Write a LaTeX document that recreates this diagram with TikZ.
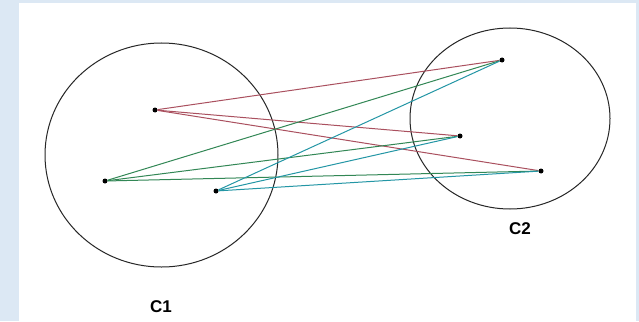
\documentclass[tikz,border=0pt]{standalone}
\usepackage{fontspec}
\setmainfont{Liberation Sans}
\definecolor{framebg}{RGB}{220,232,244}
\definecolor{linered}{RGB}{170,80,95}
\definecolor{linegreen}{RGB}{50,135,85}
\definecolor{lineblue}{RGB}{35,150,165}
\begin{document}
\begin{tikzpicture}[
    x=1pt, y=-1pt,
    dot/.style={circle, fill=black, inner sep=0pt, minimum size=5pt},
    set/.style={draw=black!85, line width=1pt},
    label/.style={font=\fontsize{17}{20}\selectfont\bfseries},
    redlink/.style={draw=linered, line width=1pt},
    greenlink/.style={draw=linegreen, line width=1pt},
    bluelink/.style={draw=lineblue, line width=1pt}
]
    % Frame
    \fill[framebg] (0,0) rectangle (639,321);
    \fill[white] (19,3) rectangle (636,321);
    \useasboundingbox (0,0) rectangle (639,321);

    % Sets
    \draw[set] (161.5,155) ellipse (116.5 and 112);
    \draw[set] (510,118.5) ellipse (100 and 90.5);
    \node[label] (c1) at (161,307) {C1};
    \node[label] (c2) at (520,229) {C2};

    % Points
    \node[dot] (p1) at (155,110) {};
    \node[dot] (p2) at (105,181) {};
    \node[dot] (p3) at (216,191) {};
    \node[dot] (q1) at (502,60) {};
    \node[dot] (q2) at (460,136) {};
    \node[dot] (q3) at (541,171) {};

    % Links
    \draw[redlink] (p1) -- (q1);
    \draw[redlink] (p1) -- (q2);
    \draw[redlink] (p1) -- (q3);
    \draw[greenlink] (p2) -- (q1);
    \draw[greenlink] (p2) -- (q2);
    \draw[greenlink] (p2) -- (q3);
    \draw[bluelink] (p3) -- (q1);
    \draw[bluelink] (p3) -- (q2);
    \draw[bluelink] (p3) -- (q3);
\end{tikzpicture}
\end{document}
